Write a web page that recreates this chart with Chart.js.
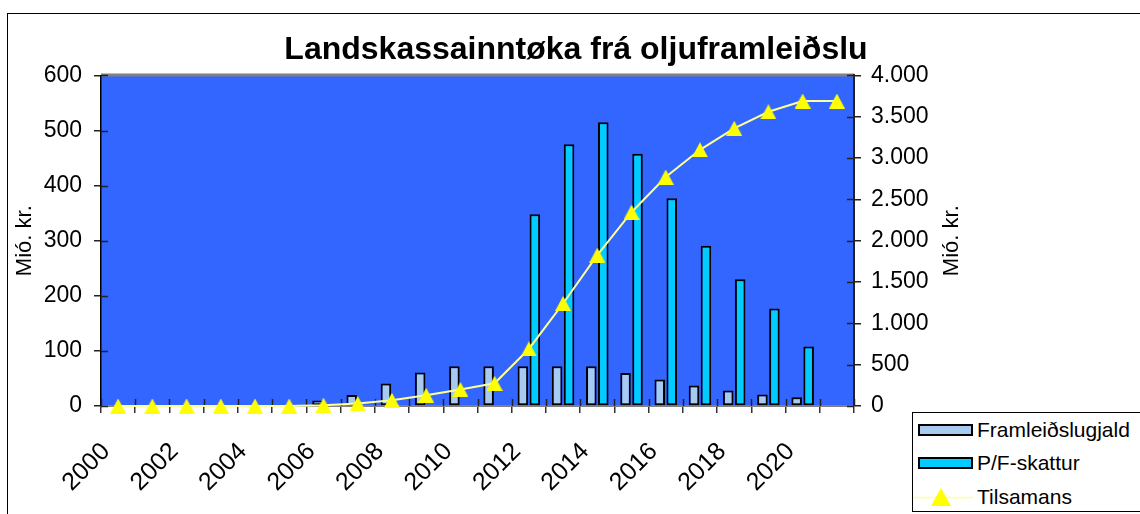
<!DOCTYPE html>
<html>
<head>
<meta charset="utf-8">
<script src="https://cdn.jsdelivr.net/npm/chart.js@4.4.1/dist/chart.umd.min.js"></script>
<style>
  html, body { margin: 0; padding: 0; background: #fff; overflow: hidden; }
  #frame { position: absolute; left: 7px; top: 13px; width: 1200px; height: 600px;
           border-left: 1px solid #000; border-top: 1px solid #000; }
  #chart { position: absolute; left: 0; top: 0; }
  #legend { position: absolute; left: 912px; top: 412px; width: 240px; height: 100px;
            border: 1px solid #000; background: #fff; box-sizing: border-box;
            font-family: 'Liberation Sans', Arial, sans-serif; font-size: 21px; color: #000; }
  .row { position: absolute; left: 0; height: 26px; display: flex; align-items: center; }
  .sw { width: 55px; height: 12px; border: 2px solid #000; box-sizing: border-box; margin-left: 5px; margin-right: 4px; }
  .ln { margin-right: 4px; }
</style>
</head>
<body>
<div id="frame"></div>
<canvas id="chart" width="1140" height="514"></canvas>
<div id="legend"></div>
<script>
const years = ['2000','2001','2002','2003','2004','2005','2006','2007','2008','2009','2010',
               '2011','2012','2013','2014','2015','2016','2017','2018','2019','2020','2021']
const framleidslugjald = [0,0,0,0,0,0,10,20,41,61,72,72,72,72,72,60,48,37,28,21,16,null]
const pfSkattur = [0,0,0,0,0,0,0,0,0,0,0,0,348,475,515,458,377,291,230,177,108,null]
const tilsamans = [0,0,0,0,0,0,10,30,70,130,200,275,690,1240,1825,2345,2770,3100,3360,3560,3690,3690]
const seriesNames = ['Framleiðslugjald', 'P/F-skattur', 'Tilsamans']
const leftTicks = [0, 600, 100]     // min, max, step
const rightTicks = [0, 4000, 500]

const plotBlue = '#3366FF'
const lightBlue = '#A6CAF0'
const cyan = '#00CCFF'
const lineYellow = '#FFFF99'
const markerYellow = '#FFFF00'
const family = "'Liberation Sans', Arial, sans-serif"

Chart.defaults.font.family = family
Chart.defaults.color = '#000'

// yellow triangle marker, centred on its box like the original
function triangleMarker(w, h) {
    const c = document.createElement('canvas')
    c.width = w; c.height = h
    const g = c.getContext('2d')
    g.fillStyle = markerYellow
    g.beginPath()
    g.moveTo(w / 2, 0); g.lineTo(w, h); g.lineTo(0, h)
    g.closePath(); g.fill()
    return c
}

function dots(v) {
    return String(v).replace(/\B(?=(\d{3})+(?!\d))/g, '.')
}

const plotDecor = {
    id: 'plotDecor',
    beforeDraw(chart) {
        const { ctx, chartArea: a } = chart
        ctx.save()
        ctx.fillStyle = plotBlue
        ctx.fillRect(a.left, a.top, a.right - a.left, a.bottom - a.top)
        ctx.strokeStyle = '#808080'
        ctx.lineWidth = 3
        ctx.beginPath()
        ctx.moveTo(a.left, a.top - 0.5)
        ctx.lineTo(a.right, a.top - 0.5)
        ctx.stroke()
        ctx.restore()
    },
    beforeDatasetsDraw(chart) {
        // inner half of the tick marks (they cross the axes)
        const { ctx, chartArea: a, scales } = chart
        ctx.save()
        ctx.strokeStyle = '#222'
        ctx.lineWidth = 1.5
        ctx.beginPath()
        scales.y.ticks.forEach(t => {
            const py = Math.round(scales.y.getPixelForValue(t.value)) + 0.5
            ctx.moveTo(a.left, py); ctx.lineTo(a.left + 7, py)
        })
        scales.y1.ticks.forEach(t => {
            const py = Math.round(scales.y1.getPixelForValue(t.value)) + 0.5
            ctx.moveTo(a.right - 7, py); ctx.lineTo(a.right, py)
        })
        const x = scales.x
        const half = (x.getPixelForValue(1) - x.getPixelForValue(0)) / 2
        for (let i = 0; i <= years.length; i++) {
            const px = Math.round(x.getPixelForValue(i) - half) + 0.5
            ctx.moveTo(px, a.bottom - 7); ctx.lineTo(px, a.bottom)
        }
        ctx.stroke()
        ctx.restore()
    },
    afterDraw(chart) {
        // right axis title reads bottom to top in the original
        const { ctx, chartArea: a } = chart
        ctx.save()
        ctx.translate(a.right + 98, (a.top + a.bottom) / 2)
        ctx.rotate(-Math.PI / 2)
        ctx.font = '22px ' + family
        ctx.fillStyle = '#000'
        ctx.textAlign = 'center'
        ctx.textBaseline = 'middle'
        ctx.fillText('Mió. kr.', 0, 0)
        ctx.restore()
    }
}

const marker = triangleMarker(16, 15)

const ctx = document.getElementById('chart')
const myChart = new Chart(ctx, {
    type: 'bar',
    data: {
        labels: years,
        datasets: [{
            type: 'line',
            label: seriesNames[2],
            data: tilsamans,
            yAxisID: 'y1',
            borderColor: lineYellow,
            borderWidth: 2,
            tension: 0,
            pointStyle: marker,
            pointRadius: 8,
            clip: false
        }, {
            label: seriesNames[0],
            data: framleidslugjald,
            yAxisID: 'y',
            backgroundColor: lightBlue,
            borderColor: '#000',
            borderWidth: 2,
            borderSkipped: false,
            categoryPercentage: 0.7,
            barPercentage: 0.88
        }, {
            label: seriesNames[1],
            data: pfSkattur,
            yAxisID: 'y',
            backgroundColor: cyan,
            borderColor: '#000',
            borderWidth: 2,
            borderSkipped: false,
            categoryPercentage: 0.7,
            barPercentage: 0.88
        }]
    },
    options: {
        responsive: false,
        animation: false,
        devicePixelRatio: 1,
        layout: { padding: { left: 12, right: 0, top: 0, bottom: 0 } },
        plugins: {
            legend: { display: false },
            tooltip: { enabled: false },
            title: {
                display: true,
                text: 'Landskassainntøka frá oljuframleiðslu',
                font: { size: 32, weight: 'bold' },
                color: '#000',
                padding: { top: 31, bottom: 6 }
            }
        },
        scales: {
            x: {
                offset: true,
                grid: { offset: true, drawOnChartArea: false, tickLength: 7, color: '#333', lineWidth: 1.5 },
                border: { color: '#808080', width: 2 },
                ticks: {
                    autoSkip: false, minRotation: 45, maxRotation: 45,
                    font: { size: 25 }, color: '#000', padding: 24, labelOffset: -12,
                    callback: (v, i) => i % 2 === 0 ? years[i] : ''
                },
                afterFit: s => { s.height = 108 }
            },
            y: {
                position: 'left',
                min: leftTicks[0], max: leftTicks[1],
                ticks: { stepSize: leftTicks[2], padding: 12, font: { size: 23 }, color: '#000' },
                grid: { drawOnChartArea: false, tickLength: 7, color: '#222', lineWidth: 1.5 },
                border: { color: '#000', width: 1.5 },
                title: { display: true, text: 'Mió. kr.', font: { size: 22 }, color: '#000', padding: 0 },
                afterFit: s => { s.width = 89 }
            },
            y1: {
                position: 'right',
                min: rightTicks[0], max: rightTicks[1],
                ticks: { stepSize: rightTicks[2], padding: 10, font: { size: 23 }, color: '#000', callback: v => dots(v) },
                grid: { drawOnChartArea: false, tickLength: 7, color: '#222', lineWidth: 1.5 },
                border: { color: '#222', width: 2 },
                afterFit: s => { s.width = 286 }
            }
        }
    },
    plugins: [plotDecor]
});

// legend built from the same series names and colours
const legend = document.getElementById('legend')
const swatches = [lightBlue, cyan]
const rowTops = [4, 37, 71]
seriesNames.forEach((name, i) => {
    const row = document.createElement('div')
    row.className = 'row'
    row.style.top = rowTops[i] + 'px'
    if (i < 2) {
        row.innerHTML = '<div class="sw" style="background:' + swatches[i] + '"></div><span>' + name + '</span>'
    } else {
        row.innerHTML = '<svg class="ln" width="60" height="20"><line x1="0" y1="10.5" x2="60" y2="10.5" stroke="' + lineYellow +
            '" stroke-width="1.5"/><polygon points="28,1 38,19 18,19" fill="' + markerYellow + '"/></svg><span>' + name + '</span>'
    }
    legend.appendChild(row)
})
</script>
</body>
</html>
